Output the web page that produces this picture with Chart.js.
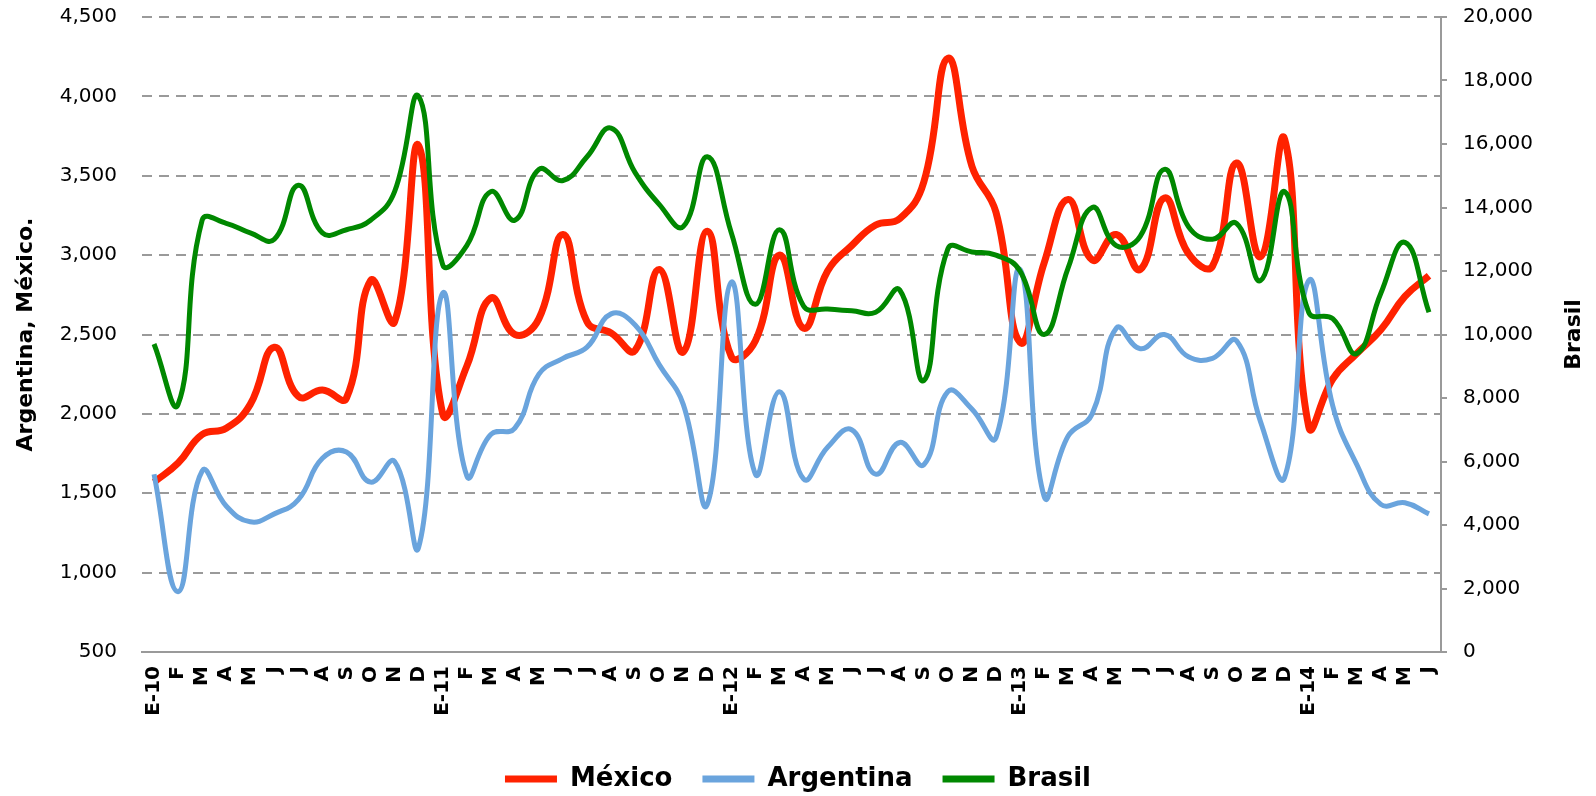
<!DOCTYPE html>
<html lang="es">
<head>
<meta charset="utf-8">
<script src="https://cdn.jsdelivr.net/npm/chart.js@4.4.1/dist/chart.umd.min.js"></script>
<style>
  html, body { margin: 0; padding: 0; background: #fff; }
  #contenedor { width: 1596px; height: 796px; position: relative; }
</style>
</head>
<body>
<div id="contenedor"><canvas id="grafico"></canvas></div>
<script>
// Meses (E-10 ... J-14)
const meses = [
  'E-10','F','M','A','M','J','J','A','S','O','N','D',
  'E-11','F','M','A','M','J','J','A','S','O','N','D',
  'E-12','F','M','A','M','J','J','A','S','O','N','D',
  'E-13','F','M','A','M','J','J','A','S','O','N','D',
  'E-14','F','M','A','M','J'
];

// Eje izquierdo
const mexico = [
  1570, 1690, 1870, 1910, 2060, 2420, 2110, 2150, 2100, 2840, 2580, 3690,
  2000, 2300, 2730, 2500, 2600, 3130, 2580, 2510, 2400, 2910, 2390, 3150,
  2360, 2460, 3000, 2540, 2900, 3060, 3190, 3230, 3460, 4240, 3560, 3270,
  2450, 2950, 3350, 2970, 3130, 2910, 3360, 3010, 2930, 3580, 2990, 3730,
  1920, 2220, 2380, 2530, 2740, 2870
];
const argentina = [
  1620, 880, 1640, 1420, 1320, 1370, 1460, 1720, 1760, 1570, 1700, 1160,
  2760, 1610, 1870, 1910, 2250, 2350, 2420, 2630, 2560, 2310, 2060, 1430,
  2830, 1620, 2140, 1590, 1790, 1900, 1620, 1820, 1680, 2140, 2030, 1850,
  2910, 1480, 1860, 2000, 2540, 2410, 2500, 2360, 2350, 2460, 1950, 1600,
  2840, 2050, 1680, 1430, 1440, 1370
];
// Eje derecho
const brasil = [
  9700, 7800, 13600, 13500, 13200, 13000, 14700, 13200, 13300, 13600, 14500, 17500,
  12200, 12800, 14500, 13600, 15200, 14850, 15600, 16500, 15100, 14100, 13400, 15600,
  13200, 10950, 13300, 10900, 10800, 10750, 10700, 11400, 8550, 12700, 12600, 12500,
  12000, 10000, 12100, 14000, 12800, 13100, 15200, 13400, 13000, 13500, 11700, 14500,
  10700, 10500, 9400, 11300, 12900, 10700
];

const GRIS = '#9a9a9a';
Chart.defaults.font.family = "'DejaVu Sans', sans-serif";
Chart.defaults.color = '#000';

const fmt = v => Number(v).toLocaleString('en-US');

// Título del eje derecho, girado como el izquierdo
const tituloDerecho = {
  id: 'tituloDerecho',
  afterLayout(chart) {
    // bajar un poco la leyenda
    chart.legend.top += 6;
    chart.legend.bottom += 6;
  },
  afterDraw(chart) {
    const { ctx, chartArea } = chart;
    ctx.save();
    ctx.translate(1574, (chartArea.top + chartArea.bottom) / 2);
    ctx.rotate(-Math.PI / 2);
    ctx.font = "bold 22px 'DejaVu Sans', sans-serif";
    ctx.fillStyle = '#000';
    ctx.textAlign = 'center';
    ctx.textBaseline = 'middle';
    ctx.fillText('Brasil', 0, 0);
    ctx.restore();
  }
};

// ancho fijo del eje y margen superior sin sumar el padding de las etiquetas
const fijarEje = ancho => s => {
  s.width = ancho;
  s.paddingTop = 17;
  s.paddingBottom = 12;
};

new Chart(document.getElementById('grafico'), {
  type: 'line',
  data: {
    labels: meses,
    datasets: [{
      label: 'México',
      data: mexico,
      borderColor: '#ff2200',
      backgroundColor: '#ff2200',
      borderWidth: 7,
      yAxisID: 'y',
      order: 3
    }, {
      label: 'Argentina',
      data: argentina,
      borderColor: '#6aa4dd',
      backgroundColor: '#6aa4dd',
      borderWidth: 5,
      yAxisID: 'y',
      order: 2
    }, {
      label: 'Brasil',
      data: brasil,
      borderColor: '#008800',
      backgroundColor: '#008800',
      borderWidth: 5,
      yAxisID: 'y2',
      order: 1
    }]
  },
  plugins: [tituloDerecho],
  options: {
    responsive: true,
    maintainAspectRatio: false,
    animation: false,
    layout: { padding: { top: 0, left: 0, right: 0, bottom: 0 } },
    elements: {
      point: { radius: 0 },
      line: { tension: 0.45 }
    },
    plugins: {
      tooltip: { enabled: false },
      legend: {
        position: 'bottom',
        labels: {
          boxWidth: 52,
          boxHeight: 7,
          padding: 30,
          font: { size: 26, weight: 'bold' },
          // muestra de línea sin borde
          generateLabels: chart => Chart.defaults.plugins.legend.labels
            .generateLabels(chart)
            .map(l => ({ ...l, lineWidth: 0 })),
          sort: (a, b) => a.datasetIndex - b.datasetIndex
        }
      }
    },
    scales: {
      x: {
        offset: true,
        grid: { display: false },
        border: { display: true, color: GRIS, width: 2 },
        ticks: {
          autoSkip: false,
          minRotation: 90,
          maxRotation: 90,
          padding: 6,
          font: { size: 20, weight: 'bold' }
        },
        afterFit: s => { s.height = 78; }
      },
      y: {
        position: 'left',
        min: 500,
        max: 4500,
        ticks: {
          stepSize: 500,
          padding: 25,
          font: { size: 20 },
          callback: fmt
        },
        grid: { color: GRIS, lineWidth: 2, drawTicks: false },
        border: { display: false, dash: [10, 7] },
        title: {
          display: true,
          text: 'Argentina, México.',
          font: { size: 22, weight: 'bold' },
          padding: { top: 13, bottom: 0 }
        },
        afterFit: fijarEje(142)
      },
      y2: {
        position: 'right',
        min: 0,
        max: 20000,
        ticks: {
          stepSize: 2000,
          padding: 16,
          font: { size: 20 },
          callback: fmt
        },
        grid: { drawOnChartArea: false, color: GRIS, lineWidth: 2, tickLength: 6 },
        border: { display: true, color: GRIS, width: 2 },
        afterFit: fijarEje(155)
      }
    }
  }
});
</script>
</body>
</html>
